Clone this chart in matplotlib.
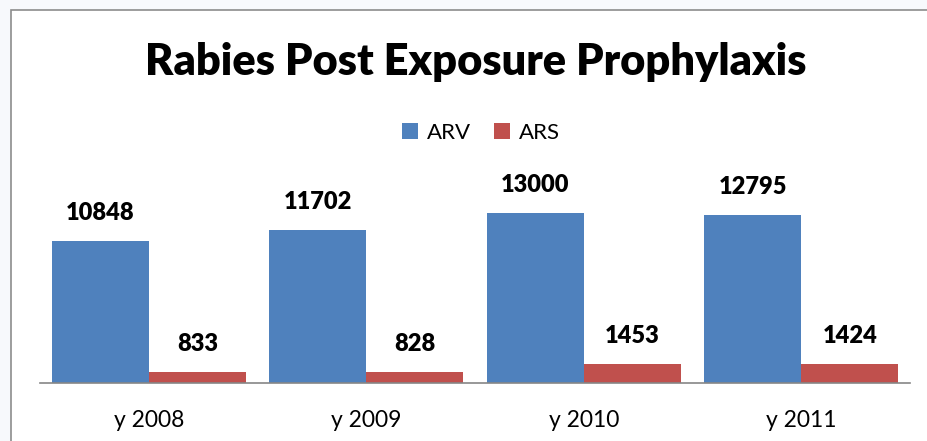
import matplotlib
matplotlib.use("Agg")
import numpy as np
from matplotlib import pyplot as plt
from matplotlib.patches import Rectangle

years = ["y 2008", "y 2009", "y 2010", "y 2011"]
arv = [10848, 11702, 13000, 12795]
ars = [833, 828, 1453, 1424]

BLUE = "#4F81BD"
RED = "#C0504D"
FONT = "Lato"

fig = plt.figure(figsize=(9.27, 4.41), dpi=100)
fig.patch.set_facecolor("#F7F9FC")

# white chart area with grey frame (runs off the right and bottom edges)
fig.patches.append(Rectangle((11 / 927, -0.05), 1.1, 1 - 10 / 441 + 0.05,
                             transform=fig.transFigure, facecolor="white",
                             edgecolor="#8C8C8C", linewidth=1.2, zorder=-5))

ax = fig.add_axes([40 / 927, (441 - 382.5) / 441, 870 / 927, 183 / 441])
ax.set_facecolor("none")
ax.set_zorder(2)

x = np.arange(len(years))
w = 0.446
b1 = ax.bar(x - w / 2, arv, w, color=BLUE, label="ARV")
b2 = ax.bar(x + w / 2, ars, w, color=RED, label="ARS")

for bars in (b1, b2):
    for r in bars:
        ax.annotate(f"{int(r.get_height())}", (r.get_x() + r.get_width() / 2, r.get_height()),
                    xytext=(0, 17), textcoords="offset pixels", ha="center", va="bottom",
                    fontsize=17, fontweight="heavy", family=FONT)

ax.set_xlim(-0.5, 3.5)
ax.set_ylim(0, 14000)
ax.set_xticks(x)
ax.set_xticklabels(years, family=FONT, fontsize=16.5)
ax.tick_params(axis="x", length=0, pad=20)
ax.set_yticks([])
for s in ("top", "right", "left"):
    ax.spines[s].set_visible(False)
ax.spines["bottom"].set_color("#868686")
ax.spines["bottom"].set_linewidth(1.2)

fig.text(475.5 / 927, 1 - 62 / 441, "Rabies Post Exposure Prophylaxis", ha="center", va="center",
         fontsize=31.2, fontweight="heavy", family=FONT)

fig.legend(handles=[b1, b2], loc="center", bbox_to_anchor=(481 / 927, 1 - 133 / 441),
           ncol=2, frameon=False, prop={"family": FONT, "size": 16},
           handlelength=0.75, handleheight=0.75, handletextpad=0.4, columnspacing=1.0)

fig.savefig("out.png", dpi=100, facecolor=fig.get_facecolor())
